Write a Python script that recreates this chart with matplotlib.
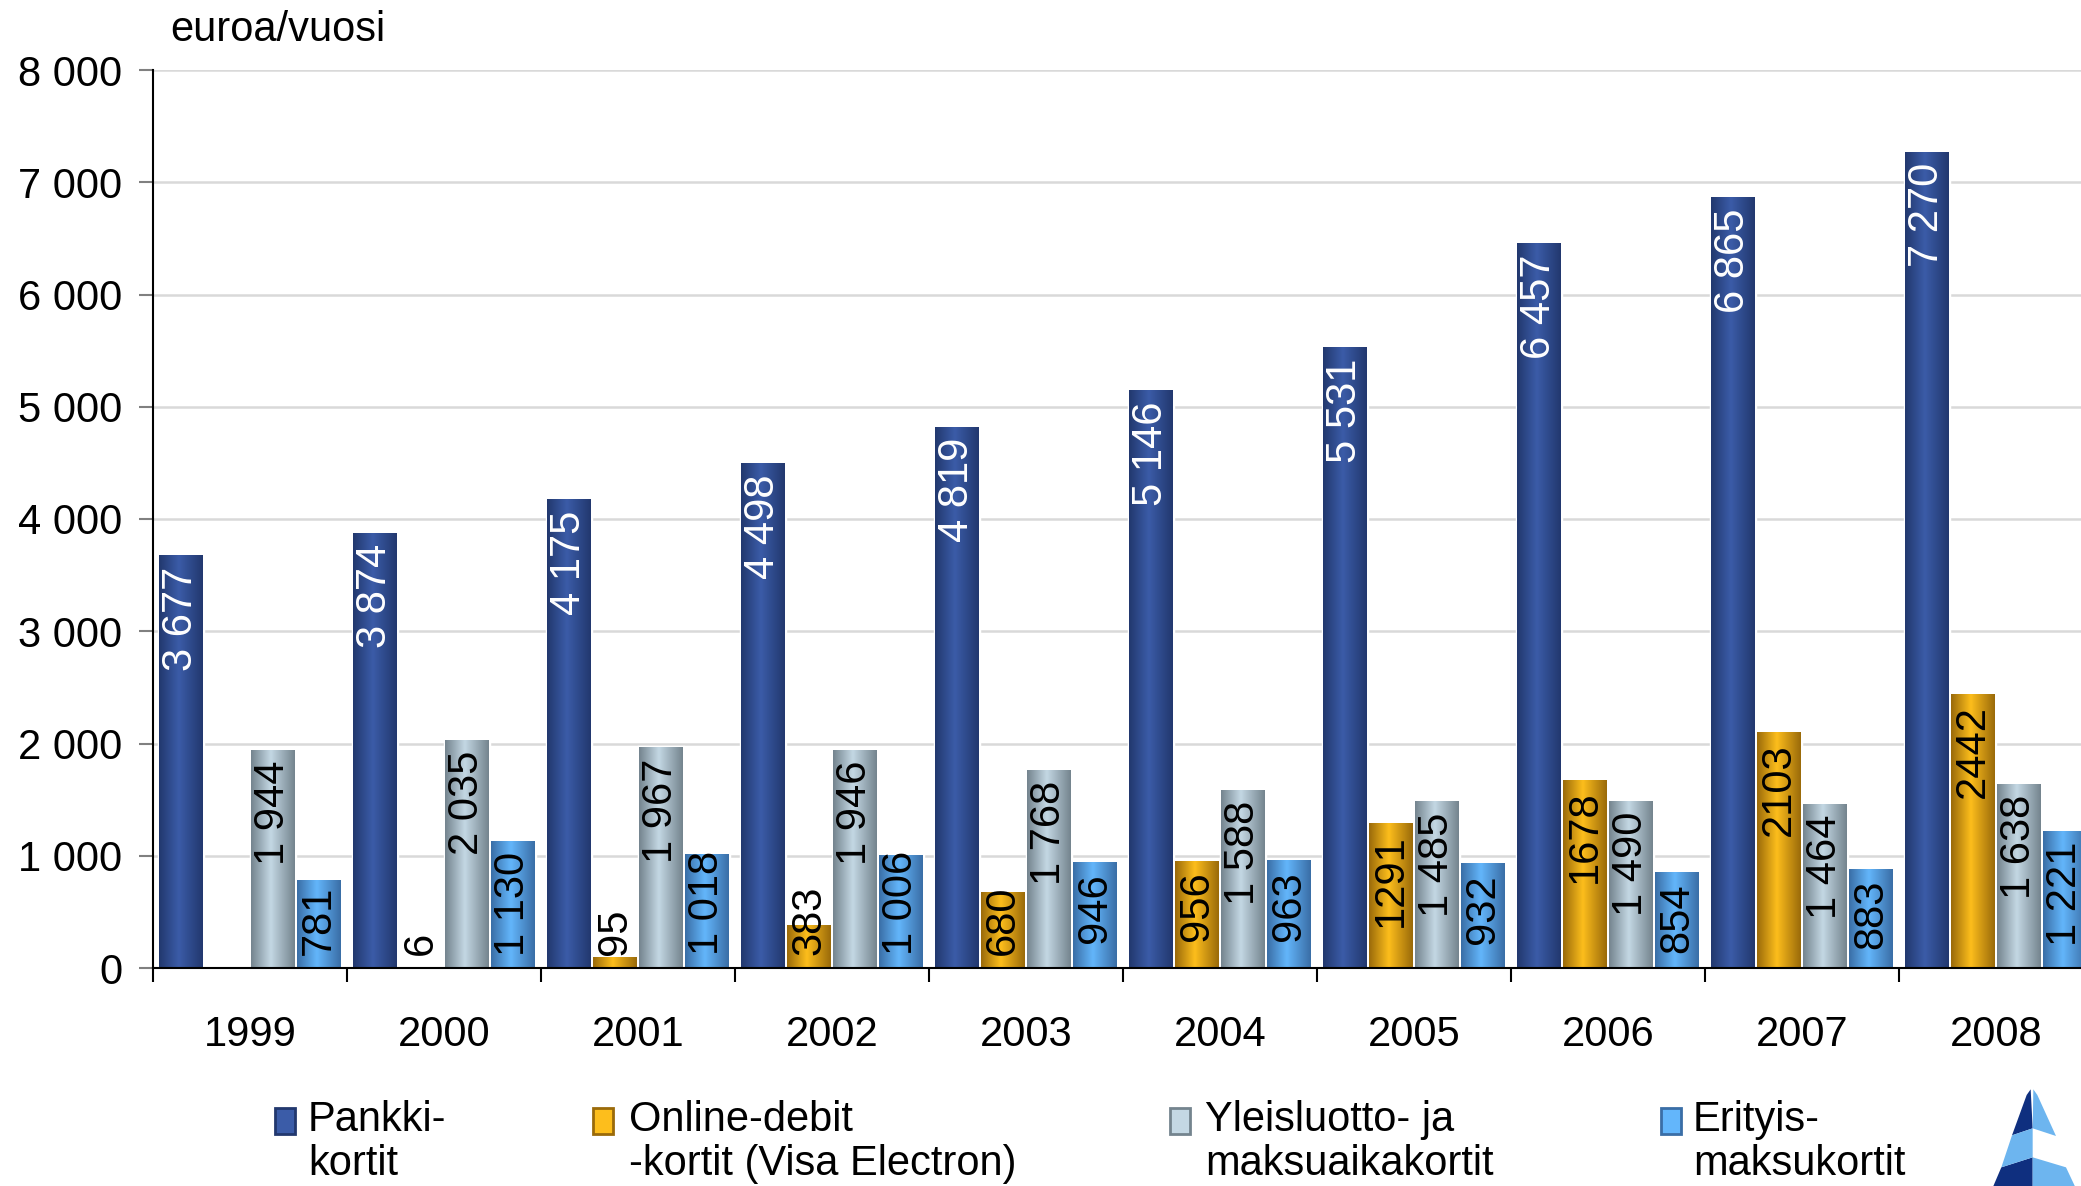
import numpy as np
import matplotlib
matplotlib.use("Agg")
import matplotlib.pyplot as plt
from matplotlib.colors import LinearSegmentedColormap
from matplotlib.patches import Polygon, Rectangle
from matplotlib import transforms

plt.rcParams["font.family"] = ["Liberation Sans", "DejaVu Sans"]

# --- data -----------------------------------------------------------------
years = ["1999", "2000", "2001", "2002", "2003", "2004", "2005", "2006", "2007", "2008"]
pankki = [3677, 3874, 4175, 4498, 4819, 5146, 5531, 6457, 6865, 7270]
online = [np.nan, 6, 95, 383, 680, 956, 1291, 1678, 2103, 2442]
yleis = [1944, 2035, 1967, 1946, 1768, 1588, 1485, 1490, 1464, 1638]
erityis = [781, 1130, 1018, 1006, 946, 963, 932, 854, 883, 1221]
series_names = [
    "Pankki-\nkortit",
    "Online-debit\n-kortit (Visa Electron)",
    "Yleisluotto- ja\nmaksuaikakortit",
    "Erityis-\nmaksukortit",
]
y_ticks = [0, 1000, 2000, 3000, 4000, 5000, 6000, 7000, 8000]
unit_label = "euroa/vuosi"

# --- styles (edge colour, centre colour, label colour, thousands sep) ------
styles = [
    ("#22386e", "#3b5ca8", "white", True),
    ("#9a6a0a", "#fdbe1c", "black", False),
    ("#74848e", "#c4d8e4", "black", True),
    ("#3a6ea6", "#63b6fb", "black", True),
]

W, H = 2081, 1186
FS = 30


def fmt(v, sep=True):
    s = str(int(v))
    if sep:
        s = f"{int(v):,}".replace(",", " ")
    return s


fig = plt.figure(figsize=(W / 100, H / 100), dpi=100)
ax = fig.add_axes([153 / W, 218 / H, 1940 / W, 898 / H])

x = np.arange(len(years))
slot = 0.237
width = 0.222
all_series = [pankki, online, yleis, erityis]
grad = np.linspace(0, 1, 128)[None, :]

bars_by_series = []
for i, vals in enumerate(all_series):
    edge, center, _, _ = styles[i]
    cmap = LinearSegmentedColormap.from_list(
        f"g{i}", [(0, edge), (0.45, center), (1, edge)])
    pos = x + (i - 1.5) * slot
    bars = ax.bar(pos, vals, width=width, color=center,
                  edgecolor="white", linewidth=2.5, zorder=2)
    for b in bars:
        h = b.get_height()
        if not np.isfinite(h) or h <= 0:
            continue
        x0 = b.get_x()
        im = ax.imshow(grad, cmap=cmap, extent=(x0, x0 + width, 0, h),
                       aspect="auto", interpolation="bicubic", zorder=3)
        im.set_clip_path(b)
    bars_by_series.append(bars)

ax.set_xlim(-0.5, len(years) - 0.5)
ax.set_ylim(0, 8000)
ax.set_aspect("auto")

# axes styling
ax.set_yticks(y_ticks)
ax.set_yticklabels([fmt(v) for v in y_ticks])
ax.tick_params(axis="y", length=10, width=1.5, color="#808080",
               pad=12, labelsize=FS)
ax.set_xticks(x)
ax.set_xticklabels(years)
ax.tick_params(axis="x", which="major", length=0, pad=34, labelsize=FS)
ax.set_xticks(np.arange(-0.5, len(years), 1), minor=True)
ax.tick_params(axis="x", which="minor", length=10, width=1.5, color="black")
ax.yaxis.grid(True, color="#d9d9d9", linewidth=1.8)
ax.set_axisbelow(True)
for s in ["top", "right"]:
    ax.spines[s].set_visible(False)
ax.spines["left"].set_linewidth(1.5)
ax.spines["bottom"].set_linewidth(1.5)
ax.spines["bottom"].set_zorder(5)

fig.text(170 / W, 1 - 30 / H, unit_label, fontsize=FS, va="center", ha="left")

# value labels: inside end when they fit, else from the base
fig.canvas.draw()
renderer = fig.canvas.get_renderer()
px_per_unit = ax.bbox.height / 8000
top_tr = transforms.offset_copy(ax.transData, fig=fig, y=-11, units="dots")
base_tr = transforms.offset_copy(ax.transData, fig=fig, y=13, units="dots")
for i, bars in enumerate(bars_by_series):
    _, _, tcolor, sep = styles[i]
    for b in bars:
        h = b.get_height()
        if not np.isfinite(h):
            continue
        cx = b.get_x() + b.get_width() / 2
        t = ax.text(cx, h, fmt(h, sep), rotation=90, fontsize=FS,
                    color=tcolor, ha="center", va="top",
                    transform=top_tr, zorder=6)
        length = t.get_window_extent(renderer).height
        if length + 22 > h * px_per_unit:
            t.set_transform(base_tr)
            t.set_position((cx, 0))
            t.set_va("bottom")
            t.set_color("black")

# legend, placed by hand
leg_marker_x = [275, 593, 1170, 1661]
leg_text_x = [308, 629, 1205, 1693]
for i, name in enumerate(series_names):
    edge, center, _, _ = styles[i]
    fig.patches.append(Rectangle((leg_marker_x[i] / W, 1 - 1134 / H),
                                 20 / W, 26 / H, transform=fig.transFigure,
                                 facecolor=center, edgecolor=edge, lw=2))
    fig.text(leg_text_x[i] / W, 1 - 1100 / H, name, fontsize=FS,
             ha="left", va="top", linespacing=1.13)

# logo in the bottom right corner
def lp(pts):
    return [((1960 + zx / 3) / W, 1 - (1080 + zy / 3) / H) for zx, zy in pts]

logo_dark = [
    [(212, 28), (218, 145), (156, 166), (200, 45)],
    [(124, 262), (218, 232), (218, 330), (95, 330)],
]
logo_light = [
    [(220, 28), (232, 45), (288, 168), (218, 145)],
    [(156, 166), (218, 145), (218, 232), (124, 262)],
    [(218, 232), (318, 262), (350, 330), (218, 330)],
]
for poly in logo_dark:
    fig.patches.append(Polygon(lp(poly), closed=True, transform=fig.transFigure,
                               facecolor="#0f2f7f", edgecolor="none"))
for poly in logo_light:
    fig.patches.append(Polygon(lp(poly), closed=True, transform=fig.transFigure,
                               facecolor="#6db5ef", edgecolor="none"))

fig.savefig("out.png", dpi=100)
